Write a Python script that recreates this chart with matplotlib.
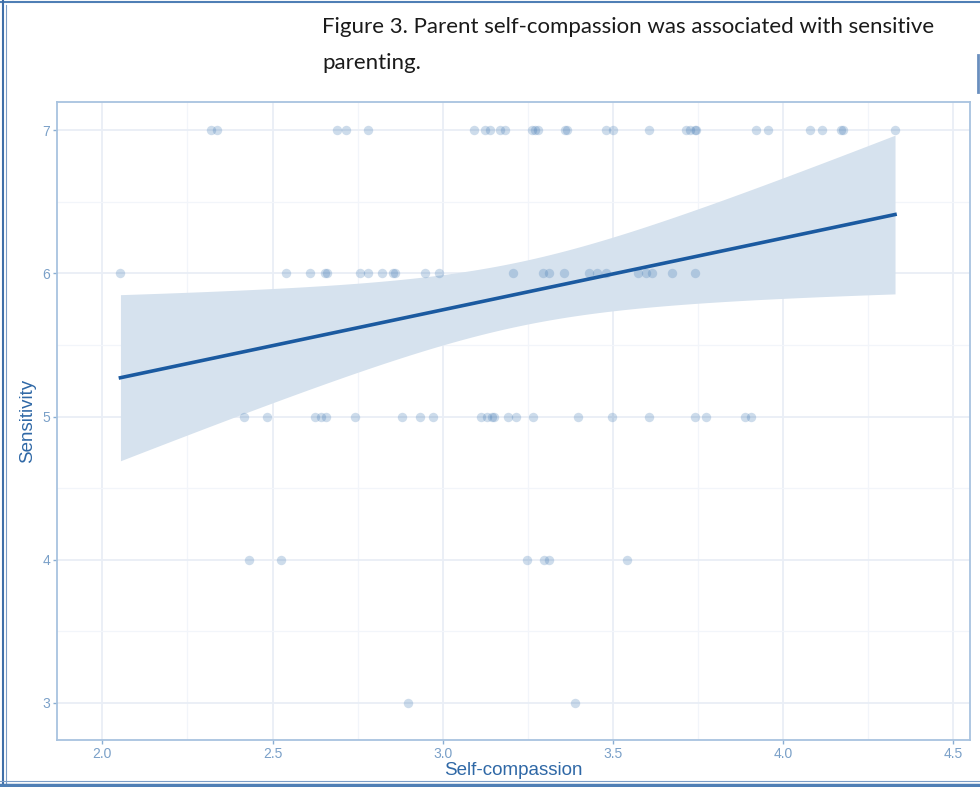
import numpy as np
import matplotlib
matplotlib.use("Agg")
import matplotlib.pyplot as plt
from matplotlib.lines import Line2D

# Self-compassion scores, grouped by sensitivity rating
x_sens7 = [2.318, 2.338, 2.691, 2.716, 2.781, 3.091, 3.124, 3.14, 3.169, 3.184,
           3.264, 3.272, 3.279, 3.359, 3.366, 3.479, 3.50, 3.608, 3.717, 3.727,
           3.741, 3.745, 3.921, 3.956, 4.081, 4.115, 4.17, 4.176, 4.33]
x_sens6 = [2.053, 2.540, 2.609, 2.655, 2.659, 2.757, 2.781, 2.823, 2.853, 2.859,
           2.949, 2.989, 3.206, 3.294, 3.314, 3.357, 3.431, 3.455, 3.479, 3.574,
           3.599, 3.616, 3.673, 3.741]
x_sens5 = [2.415, 2.483, 2.626, 2.642, 2.658, 2.742, 2.882, 2.933, 2.973, 3.114,
           3.131, 3.146, 3.150, 3.191, 3.216, 3.266, 3.398, 3.497, 3.608, 3.741,
           3.774, 3.889, 3.906]
x_sens4 = [2.432, 2.524, 3.249, 3.298, 3.314, 3.541]
x_sens3 = [2.898, 3.390]

groups = {7: x_sens7, 6: x_sens6, 5: x_sens5, 4: x_sens4, 3: x_sens3}
x = np.array([v for k in groups for v in groups[k]])
y = np.array([k for k in groups for _ in groups[k]], dtype=float)

x_ticks = [2.0, 2.5, 3.0, 3.5, 4.0, 4.5]
y_ticks = [3, 4, 5, 6, 7]

title = "Figure 3. Parent self-compassion was associated with sensitive\nparenting."

# linear fit with 95% confidence band (like geom_smooth(method="lm"))
n = len(x)
slope, intercept = np.polyfit(x, y, 1)
resid = y - (slope * x + intercept)
s = np.sqrt(np.sum(resid ** 2) / (n - 2))
sxx = np.sum((x - x.mean()) ** 2)
xs = np.linspace(x.min(), x.max(), 100)
fit = slope * xs + intercept
se = s * np.sqrt(1 / n + (xs - x.mean()) ** 2 / sxx)
t_crit = 1.99

fig = plt.figure(figsize=(9.8, 7.87), dpi=100)
ax = fig.add_axes([0.058, 0.0597, 0.932, 0.811])

ax.set_xticks([2.25, 2.75, 3.25, 3.75, 4.25], minor=True)
ax.set_yticks([3.5, 4.5, 5.5, 6.5], minor=True)
ax.grid(True, which="major", color="#e9eef6", lw=1.3, zorder=0)
ax.grid(True, which="minor", color="#f2f5fa", lw=0.9, zorder=0)
ax.set_axisbelow(True)

ax.fill_between(xs, fit - t_crit * se, fit + t_crit * se,
                color="#d6e2ee", lw=0, zorder=1)
ax.scatter(x, y, s=46, color="#3a74b0", alpha=0.25, lw=0, zorder=2)
ax.plot(xs, fit, color="#1b5aa0", lw=2.6, zorder=3)

ax.set_xlim(1.866, 4.551)
ax.set_ylim(2.74, 7.2)
ax.set_xticks(x_ticks)
ax.set_yticks(y_ticks)
ax.set_xticklabels([f"{t:.1f}" for t in x_ticks])
ax.tick_params(which="major", colors="#8aaed3", labelcolor="#7aa0c8",
               labelsize=10, length=3, width=1, pad=2)
ax.tick_params(which="minor", length=0)
for lab in ax.get_xticklabels() + ax.get_yticklabels():
    lab.set_family("Liberation Sans")
for sp in ax.spines.values():
    sp.set_color("#a8c3df")
    sp.set_linewidth(1.3)

ax.set_xlabel("Self-compassion", color="#2f68a6", fontsize=13.5,
              family="Liberation Sans", labelpad=1)
ax.set_ylabel("Sensitivity", color="#2f68a6", fontsize=13.5,
              family="Liberation Sans", labelpad=4)

fig.text(0.329, 0.979, title, fontsize=16, family="Lato",
         color="#1a1a1a", va="top", linespacing=2.0)

# document frame around the figure
def frame_line(xd, yd, color, lw):
    fig.lines.append(Line2D(xd, yd, transform=fig.transFigure, color=color, lw=lw))

frame_line([0.0, 1.0], [0.997, 0.997], "#4f7fb5", 1.5)
frame_line([0.003, 0.003], [0.0, 1.0], "#3f6fa8", 1.5)
frame_line([0.0065, 0.0065], [0.0, 0.994], "#7a9cc6", 0.8)
frame_line([0.0, 1.0], [0.003, 0.003], "#4f7fb5", 2.5)
frame_line([0.0, 1.0], [0.007, 0.007], "#7a9cc6", 0.8)
frame_line([0.998, 0.998], [0.883, 0.93], "#6a8fbf", 2)

fig.savefig("out.png", dpi=100)
